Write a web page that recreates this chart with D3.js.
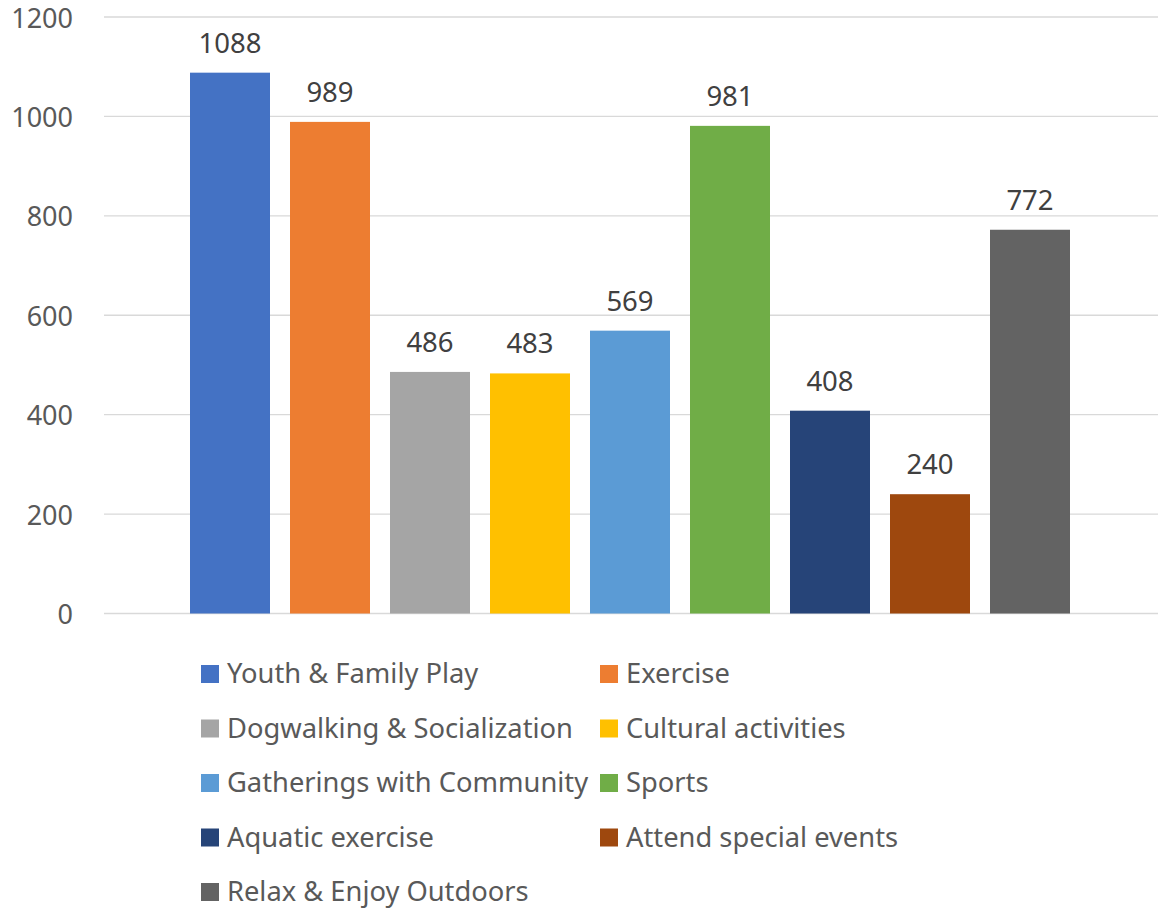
<!DOCTYPE html>
<html>
<head>
<meta charset="utf-8">
<script src="https://cdn.jsdelivr.net/npm/d3@7"></script>
<style>
  body { margin: 0; background: #fff; }
  svg { display: block; font-family: "Noto Sans", "Open Sans", sans-serif; }
</style>
</head>
<body>
<svg id="chart" width="1158" height="908"></svg>
<script>
const categories = [
  'Youth & Family Play', 'Exercise', 'Dogwalking & Socialization',
  'Cultural activities', 'Gatherings with Community', 'Sports',
  'Aquatic exercise', 'Attend special events', 'Relax & Enjoy Outdoors'
]
const values = [1088, 989, 486, 483, 569, 981, 408, 240, 772]
const colors = ['#4472C4', '#ED7D31', '#A5A5A5', '#FFC000', '#5B9BD5', '#70AD47', '#264478', '#9E480E', '#636363']
const yTicks = [0, 200, 400, 600, 800, 1000, 1200]

const svg = d3.select('#chart')

const x = d3.scaleBand()
  .domain(categories)
  .range([180, 1080])
  .paddingInner(0.2)
  .paddingOuter(0.1)

const y = d3.scaleLinear()
  .domain([0, 1200])
  .range([613.5, 17])

// gridlines
svg.append('g')
  .selectAll('line')
  .data(yTicks)
  .join('line')
    .attr('x1', 104)
    .attr('x2', 1158)
    .attr('y1', d => y(d))
    .attr('y2', d => y(d))
    .attr('stroke', '#D9D9D9')
    .attr('stroke-width', 1.3)

// y axis labels
const yAxis = svg.append('g')
  .attr('transform', 'translate(73,0)')
  .call(d3.axisLeft(y).tickValues(yTicks).tickFormat(d3.format('d')).tickSize(0).tickPadding(0))
yAxis.select('.domain').remove()
yAxis.selectAll('text')
  .attr('font-family', '"Noto Sans", "Open Sans", sans-serif')
  .attr('font-size', 27)
  .attr('fill', '#595959')
  .attr('dy', '0.37em')

// bars
svg.append('g')
  .selectAll('rect')
  .data(values)
  .join('rect')
    .attr('x', (d, i) => x(categories[i]))
    .attr('y', d => y(d))
    .attr('width', x.bandwidth())
    .attr('height', d => y(0) - y(d))
    .attr('fill', (d, i) => colors[i])

// data labels
svg.append('g')
  .selectAll('text')
  .data(values)
  .join('text')
    .attr('x', (d, i) => x(categories[i]) + x.bandwidth() / 2)
    .attr('y', d => y(d) - 20)
    .attr('text-anchor', 'middle')
    .attr('font-size', 27.5)
    .attr('fill', '#404040')
    .text(d => d)

// legend, two columns
const legend = svg.append('g')
  .selectAll('g')
  .data(categories)
  .join('g')
    .attr('transform', (d, i) => `translate(${i % 2 === 0 ? 201 : 600},${665 + Math.floor(i / 2) * 54.5})`)

legend.append('rect')
  .attr('width', 18)
  .attr('height', 18)
  .attr('fill', (d, i) => colors[i])

legend.append('text')
  .attr('x', 26)
  .attr('y', 18)
  .attr('font-size', 27.3)
  .attr('fill', '#595959')
  .text(d => d)
</script>
</body>
</html>
